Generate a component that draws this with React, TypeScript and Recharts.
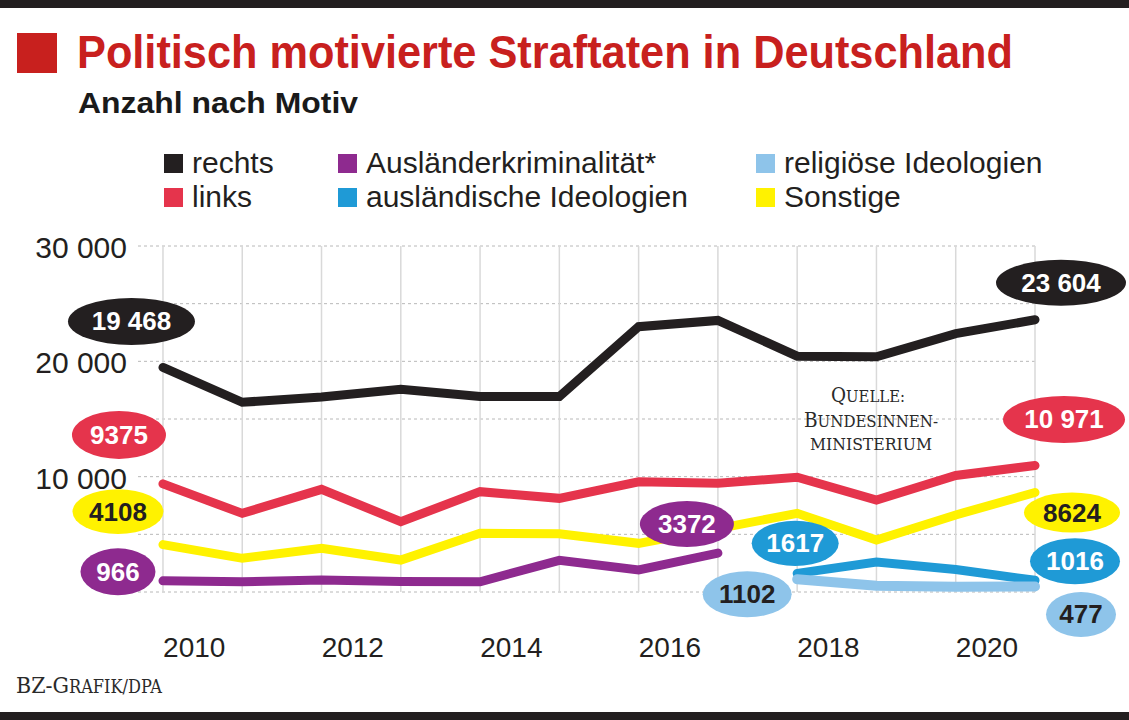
import React from "react";
import {
  LineChart,
  Line,
  XAxis,
  YAxis,
  CartesianGrid,
  LabelList,
  ReferenceLine,
} from "recharts";

// Politisch motivierte Straftaten, Anzahl nach Motiv (2009 - 2020)
const years = [2009, 2010, 2011, 2012, 2013, 2014, 2015, 2016, 2017, 2018, 2019, 2020];

const rechts = [19468, 16450, 16900, 17570, 16950, 16950, 23000, 23550, 20450, 20400, 22400, 23604];
const links = [9375, 6820, 8900, 6100, 8700, 8120, 9560, 9420, 9950, 7980, 10100, 10971];
const sonstige = [4108, 2920, 3790, 2770, 5090, 5050, 4220, 5500, 6820, 4510, 6680, 8624];
const auslaenderkrim = [966, 890, 1050, 900, 890, 2750, 1910, 3372, null, null, null, null];
const auslIdeologien = [null, null, null, null, null, null, null, null, 1617, 2600, 1950, 1016];
const religIdeologien = [null, null, null, null, null, null, null, null, 1102, 550, 460, 477];

const yTicks = [0, 5000, 10000, 15000, 20000, 25000, 30000];
const xDomain = [2008.685, 2020];

const FONT = "'Liberation Sans', Arial, Helvetica, sans-serif";
const SERIF = "'DejaVu Serif', 'Liberation Serif', serif";
const INK = "#231f20";

const SERIES = [
  { key: "rechts", name: "rechts", color: "#231f20", text: "#fff", width: 9 },
  { key: "links", name: "links", color: "#e5344c", text: "#fff", width: 9 },
  { key: "sonstige", name: "Sonstige", color: "#fff200", text: INK, width: 9 },
  { key: "auslaenderkrim", name: "Ausländerkriminalität*", color: "#8e2a8f", text: "#fff", width: 9 },
  { key: "auslIdeologien", name: "ausländische Ideologien", color: "#1f9ad6", text: "#fff", width: 9 },
  { key: "religIdeologien", name: "religiöse Ideologien", color: "#8ec4ea", text: INK, width: 10 },
];

// value badges: which point, offset from the point and ellipse radii
const BADGES: Record<string, { index: number; dx: number; dy: number; rx: number; ry: number }[]> = {
  rechts: [
    { index: 0, dx: -31.5, dy: -46, rx: 63.5, ry: 23.5 },
    { index: 11, dx: 26, dy: -37, rx: 65, ry: 23 },
  ],
  links: [
    { index: 0, dx: -44, dy: -49, rx: 47, ry: 24 },
    { index: 11, dx: 29, dy: -46, rx: 61, ry: 23.5 },
  ],
  sonstige: [
    { index: 0, dx: -45, dy: -33, rx: 45.5, ry: 22.3 },
    { index: 11, dx: 37, dy: 20, rx: 48, ry: 20 },
  ],
  auslaenderkrim: [
    { index: 0, dx: -45, dy: -9, rx: 37.5, ry: 23.5 },
    { index: 7, dx: -31, dy: -29, rx: 47, ry: 23 },
  ],
  auslIdeologien: [
    { index: 8, dx: -2, dy: -30, rx: 43.5, ry: 22.7 },
    { index: 11, dx: 40, dy: -19, rx: 45, ry: 23 },
  ],
  religIdeologien: [
    { index: 8, dx: -50, dy: 15, rx: 44.5, ry: 23 },
    { index: 11, dx: 46, dy: 28, rx: 35, ry: 22.5 },
  ],
};

const data = years.map((year, i) => ({
  year,
  rechts: rechts[i],
  links: links[i],
  sonstige: sonstige[i],
  auslaenderkrim: auslaenderkrim[i],
  auslIdeologien: auslIdeologien[i],
  religIdeologien: religIdeologien[i],
}));

const fmt = (v: number) =>
  v >= 10000 ? `${Math.floor(v / 1000)} ${String(v % 1000).padStart(3, "0")}` : String(v);

const makeBadge = (key: string, fill: string, textColor: string) => (props: any) => {
  const { x, y, value, index } = props;
  const b = (BADGES[key] || []).find((d) => d.index === index);
  if (!b || value == null) return <g />;
  const cx = x + b.dx;
  const cy = y + b.dy;
  return (
    <g>
      <ellipse cx={cx} cy={cy} rx={b.rx} ry={b.ry} fill={fill} />
      <text
        x={cx}
        y={cy + 9}
        textAnchor="middle"
        fontFamily={FONT}
        fontWeight={700}
        fontSize={26}
        fill={textColor}
      >
        {fmt(value)}
      </text>
    </g>
  );
};

const XTick = (props: any) => {
  const { x, y, payload } = props;
  if (payload.value % 2 !== 0) return <g />;
  return (
    <text x={x - 48} y={y + 65} textAnchor="middle" fontFamily={FONT} fontSize={28} fill={INK}>
      {payload.value}
    </text>
  );
};

const YTick = (props: any) => {
  const { x, y, payload } = props;
  if (payload.value === 0 || payload.value % 10000 !== 0) return <g />;
  return (
    <text x={x} y={y + 12} textAnchor="end" fontFamily={FONT} fontSize={30} fill={INK}>
      {fmt(payload.value)}
    </text>
  );
};

const legendRows = [
  ["rechts", "auslaenderkrim", "religIdeologien"],
  ["links", "auslIdeologien", "sonstige"],
];
const legendCols = [164, 338, 756];

export default function App() {
  return (
    <div style={{ position: "absolute", left: 0, top: 0, width: 1129, height: 720, background: "#fff", overflow: "hidden" }}>
      {/* top and bottom bars */}
      <div style={{ position: "absolute", left: 0, top: 0, width: 1129, height: 8, background: INK }} />
      <div style={{ position: "absolute", left: 0, top: 712, width: 1129, height: 8, background: INK }} />

      {/* legend */}
      {legendRows.map((row, r) =>
        row.map((key, c) => {
          const s = SERIES.find((d) => d.key === key)!;
          return (
            <div
              key={key}
              style={{
                position: "absolute",
                left: legendCols[c],
                top: 146 + r * 34,
                height: 34,
                display: "flex",
                alignItems: "center",
                fontFamily: FONT,
                fontSize: 30,
                color: INK,
                whiteSpace: "nowrap",
              }}
            >
              <span style={{ display: "inline-block", width: 19, height: 19, background: s.color, marginRight: 9 }} />
              {s.name}
            </div>
          );
        })
      )}

      <div style={{ position: "absolute", left: 0, top: 0 }}>
        <LineChart width={1129} height={720} data={data} margin={{ top: 246, right: 94, bottom: 0, left: 0 }}>
          <CartesianGrid
            horizontal
            vertical={false}
            stroke="#b8b8b8"
            strokeDasharray="3 3"
          />
          {/* solid year lines */}
          {years.map((y) => (
            <ReferenceLine key={y} x={y} stroke="#d9d9d9" strokeWidth={1.5} />
          ))}
          <XAxis
            dataKey="year"
            type="number"
            domain={xDomain}
            ticks={years}
            height={128}
            axisLine={false}
            tickLine={false}
            tickSize={0}
            tickMargin={0}
            tick={<XTick />}
            interval={0}
          />
          <YAxis
            type="number"
            domain={[0, 30000]}
            ticks={yTicks}
            width={138}
            axisLine={false}
            tickLine={false}
            tickSize={0}
            tickMargin={11}
            tick={<YTick />}
            interval={0}
          />
          {SERIES.map((s) => (
            <Line
              key={s.key}
              type="linear"
              dataKey={s.key}
              stroke={s.color}
              strokeWidth={s.width}
              strokeLinecap="round"
              strokeLinejoin="miter"
              dot={false}
              activeDot={false}
              isAnimationActive={false}
            >
              <LabelList dataKey={s.key} content={makeBadge(s.key, s.color, s.text)} />
            </Line>
          ))}
        </LineChart>
      </div>

      {/* titles and notes */}
      <svg width={1129} height={720} style={{ position: "absolute", left: 0, top: 0, pointerEvents: "none" }}>
        <rect x={17} y={33} width={40} height={40} fill="#c8201e" />
        <text x={77} y={68} fontFamily={FONT} fontWeight={700} fontSize={46} fill="#c8201e" textLength={936} lengthAdjust="spacingAndGlyphs">
          Politisch motivierte Straftaten in Deutschland
        </text>
        <text x={78} y={113} fontFamily={FONT} fontWeight={700} fontSize={29} fill="#1a1a1a" textLength={280} lengthAdjust="spacingAndGlyphs">
          Anzahl nach Motiv
        </text>

        <g fontFamily={SERIF} fill="#2a2a2a" textAnchor="middle">
          <text x={868} y={402} textLength={74} lengthAdjust="spacingAndGlyphs">
            <tspan fontSize={21}>Q</tspan>
            <tspan fontSize={17}>UELLE:</tspan>
          </text>
          <text x={871} y={427} textLength={134} lengthAdjust="spacingAndGlyphs">
            <tspan fontSize={21}>B</tspan>
            <tspan fontSize={17}>UNDESINNEN-</tspan>
          </text>
          <text x={871} y={450} fontSize={17} textLength={122} lengthAdjust="spacingAndGlyphs">
            MINISTERIUM
          </text>
        </g>

        <text x={16} y={693} fontFamily={SERIF} fill="#2a2a2a" textLength={146} lengthAdjust="spacingAndGlyphs">
          <tspan fontSize={23}>BZ-G</tspan>
          <tspan fontSize={18}>RAFIK/DPA</tspan>
        </text>
      </svg>
    </div>
  );
}
